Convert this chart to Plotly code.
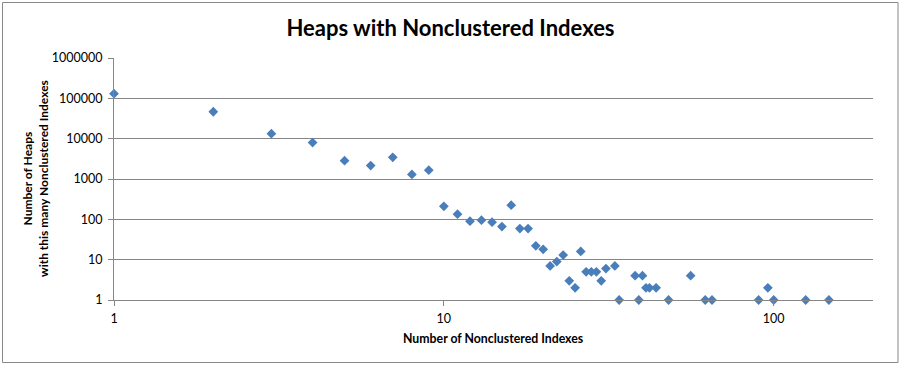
import plotly.graph_objects as go

# Data
num_indexes = [1, 2, 3, 4, 5, 6, 7, 8, 9, 10, 11, 12, 13, 14, 15, 16, 17, 18, 19, 20,
               21, 22, 23, 24, 25, 26, 27, 28, 29, 30, 31, 33, 34, 38, 39, 40, 41, 42,
               44, 48, 56, 62, 65, 90, 96, 100, 125, 147]
num_heaps = [130000, 46500, 13300, 8000, 2850, 2150, 3450, 1300, 1650, 210, 134, 90, 95,
             85, 66, 225, 59, 59, 22, 18, 7, 9, 13, 3, 2, 16, 5, 5, 5, 3, 6, 7, 1, 4, 1,
             4, 2, 2, 2, 1, 4, 1, 1, 1, 2, 1, 1, 1]

y_tickvals = [1, 10, 100, 1000, 10000, 100000, 1000000]
y_ticktext = ["1", "10", "100", "1000", "10000", "100000", "1000000"]
x_tickvals = [1, 10, 100]
x_ticktext = ["1", "10", "100"]

title_text = "Heaps with Nonclustered Indexes"
x_title = "Number of Nonclustered Indexes"
y_title = "Number of Heaps<br>with this many Nonclustered Indexes"

FONT = "Lato, 'Open Sans', sans-serif"
GRID = "#868686"

fig = go.Figure()
fig.add_trace(go.Scatter(
    x=num_indexes, y=num_heaps, mode="markers", cliponaxis=False,
    marker=dict(symbol="diamond", size=7.5, color="#4A7EBB", line=dict(width=0)),
    showlegend=False,
))

W, H = 901, 365
L, R, T, B = 114, 28, 58, 65
pw = W - L - R
ph = H - T - B

fig.update_layout(
    width=W, height=H,
    margin=dict(l=L, r=R, t=T, b=B),
    paper_bgcolor="white", plot_bgcolor="white",
    font=dict(family=FONT, size=12, color="#000000"),
    title=dict(text="<b>" + title_text + "</b>", x=0.5, xanchor="center",
               y=1 - 28 / H, yanchor="middle", font=dict(size=22, family=FONT, color="#000")),
    xaxis=dict(type="log", range=[0, 2.301], tickvals=x_tickvals, ticktext=x_ticktext,
               showgrid=False, zeroline=False, showline=True, linecolor=GRID, linewidth=1,
               ticks="outside", ticklen=5, tickcolor=GRID, ticklabelstandoff=2,
               tickfont=dict(size=12.5, family=FONT, color="#000")),
    yaxis=dict(type="log", range=[0, 6], tickvals=y_tickvals, ticktext=y_ticktext,
               showgrid=True, gridcolor=GRID, gridwidth=1, zeroline=False,
               showline=True, linecolor=GRID, linewidth=1,
               ticks="outside", ticklen=5, tickcolor=GRID, ticklabelstandoff=3,
               tickfont=dict(size=12.5, family=FONT, color="#000")),
    shapes=[dict(type="rect", xref="paper", yref="paper",
                 x0=(2.5 - L) / pw, x1=(898 - L) / pw,
                 y0=-(362.5 - (H - B)) / ph, y1=1 + (T - 2.5) / ph,
                 line=dict(color="#888888", width=1), fillcolor="rgba(0,0,0,0)", layer="below")],
    annotations=[
        dict(text="<b>" + x_title + "</b>", xref="paper", yref="paper",
             x=0.5, y=-(338 - (H - B)) / ph, xanchor="center", yanchor="middle",
             showarrow=False, font=dict(size=12.3, family=FONT, color="#000")),
        dict(text="<b>" + y_title + "</b>", xref="paper", yref="paper",
             x=(35 - L) / pw, y=0.5, xanchor="center", yanchor="middle", textangle=-90,
             showarrow=False, font=dict(size=12, family=FONT, color="#000")),
    ],
)

fig.write_html("out.html", config={"displayModeBar": False},
               post_script="document.body.style.margin='0';")
